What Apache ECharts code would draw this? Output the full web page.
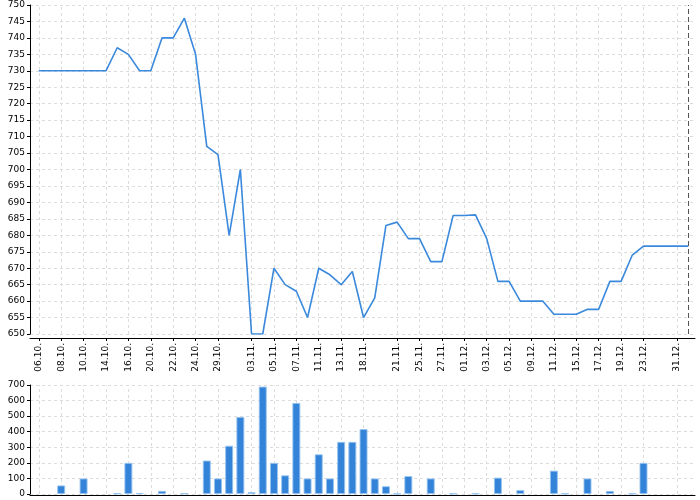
<!DOCTYPE html>
<html><head><meta charset="utf-8">
<script src="https://cdn.jsdelivr.net/npm/echarts@6/dist/echarts.min.js"></script>
<style>html,body{margin:0;padding:0;background:#fff}#c{width:700px;height:500px}</style>
</head><body><div id="c"></div>
<script>
const dates = ["06.10.","07.10.","08.10.","09.10.","10.10.","13.10.","14.10.","15.10.","16.10.","17.10.",
"20.10.","21.10.","22.10.","23.10.","24.10.","27.10.","29.10.","30.10.","31.10.","03.11.",
"04.11.","05.11.","06.11.","07.11.","10.11.","11.11.","12.11.","13.11.","14.11.","18.11.",
"19.11.","20.11.","21.11.","24.11.","25.11.","26.11.","27.11.","28.11.","01.12.","02.12.",
"03.12.","04.12.","05.12.","08.12.","09.12.","10.12.","11.12.","12.12.","15.12.","16.12.",
"17.12.","18.12.","19.12.","22.12.","23.12.","29.12.","30.12.","31.12.","02.01."];
const prices = [730,730,730,730,730,730,730,737,735,730,
730,740,740,746,735,707,704.5,680,700,650,
650,670,665,663,655,670,668,665,669,655,
661,683,684,679,679,672,672,686,686,686.2,
679,666,666,660,660,660,656,656,656,657.5,
657.5,666,666,674,676.7,676.7,676.7,676.7,676.7];
const volumes = [0,0,55,0,100,0,0,4,200,5,
0,20,0,4,0,215,100,310,495,12,
690,200,120,585,100,255,100,335,335,417,
100,50,2,115,0,100,0,3,0,3,
0,105,0,25,0,0,150,3,0,100,
0,20,0,2,200,0,0,0,0];
const labelDates = ["06.10.","08.10.","10.10.","14.10.","16.10.","20.10.","22.10.","24.10.","29.10.",
"03.11.","05.11.","07.11.","11.11.","13.11.","18.11.","21.11.","25.11.","27.11.",
"01.12.","03.12.","05.12.","09.12.","11.12.","15.12.","17.12.","19.12.","23.12.","31.12."];
const markerDate = "02.01.";

const labelIdx = labelDates.map(d => dates.indexOf(d));
const lastIdx = dates.indexOf(markerDate);
const font = 'DejaVu Sans';
const gridStyle = {color:'#dcdcdc', type:[3,3], width:1};
const gridLine = {show:true, lineStyle:gridStyle};
const xMin = -0.786, xMax = dates.length - 1 + 0.6;

function vGrid(ax) {
  return {type:'line', xAxisIndex:ax, yAxisIndex:ax, data:[], z:1, silent:true,
    markLine:{silent:true, z:1, symbol:['none','none'], label:{show:false}, animation:false,
      lineStyle:gridStyle, emphasis:{disabled:true},
      data: labelIdx.map(i => ({xAxis:i}))}};
}

const chart = echarts.init(document.getElementById('c'), null, {renderer:'canvas'});
chart.setOption({
  animation:false,
  backgroundColor:'#fff',
  grid:[
    {left:30, right:5, top:5, height:329},
    {left:30, right:5, top:385, height:109}
  ],
  xAxis:[
    {type:'value', gridIndex:0, min:xMin, max:xMax, offset:4,
     axisLine:{show:true, onZero:false, lineStyle:{color:'#000', width:1}},
     axisTick:{show:true, length:3, customValues:labelIdx, lineStyle:{color:'#000'}},
     axisLabel:{show:true, customValues:labelIdx, rotate:90, margin:5, color:'#000', fontFamily:font, fontSize:9,
       formatter: v => dates[Math.round(v)] || ''},
     splitLine:{show:false}},
    {type:'value', gridIndex:1, min:xMin, max:xMax, offset:1,
     axisLine:{show:true, onZero:false, lineStyle:{color:'#000', width:1}},
     axisTick:{show:false},
     axisLabel:{show:false},
     splitLine:{show:false}}
  ],
  yAxis:[
    {type:'value', gridIndex:0, min:650, max:750, interval:5,
     axisLine:{show:true, onZero:false, lineStyle:{color:'#000'}},
     axisTick:{show:true, length:3, lineStyle:{color:'#000'}},
     axisLabel:{color:'#000', fontFamily:font, fontSize:9, margin:5},
     splitLine:gridLine},
    {type:'value', gridIndex:1, min:0, max:700, interval:100,
     axisLine:{show:true, onZero:false, lineStyle:{color:'#000'}},
     axisTick:{show:true, length:3, lineStyle:{color:'#000'}},
     axisLabel:{color:'#000', fontFamily:font, fontSize:9, margin:5},
     splitLine:gridLine}
  ],
  series:[
    vGrid(0), vGrid(1),
    {type:'line', xAxisIndex:0, yAxisIndex:0, showSymbol:false, symbol:'none', z:3,
     data: dates.map((d,i) => [i, prices[i]]),
     lineStyle:{color:'#3a89dc', width:1.6},
     markLine:{silent:true, symbol:['none','none'], label:{show:false},
       lineStyle:{color:'#555', type:[5,3], width:1},
       data:[{xAxis:lastIdx}]}},
    {type:'bar', xAxisIndex:1, yAxisIndex:1, barWidth:8, z:3,
     data: dates.map((d,i) => [i, volumes[i] > 0 ? volumes[i] : '-']),
     itemStyle:{color:'#3383d8', borderColor:'rgba(150,195,240,0.9)', borderWidth:1}}
  ]
});
</script></body></html>
